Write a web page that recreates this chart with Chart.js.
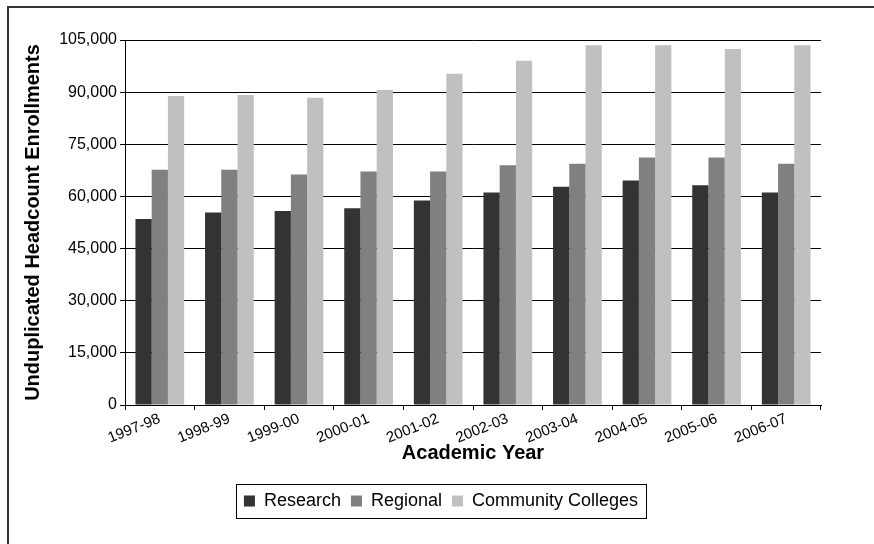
<!DOCTYPE html>
<html lang="en">
<head>
<meta charset="UTF-8" />
<title>Headcount Enrollments</title>
<script src="https://cdn.jsdelivr.net/npm/chart.js"></script>
<style>
  html, body { margin: 0; padding: 0; background: #fff; }
  #wrap { width: 874px; height: 544px; }
</style>
</head>
<body>
<div id="wrap"><canvas id="enrollChart" width="874" height="544"></canvas></div>
<script>
  const years = ['1997-98', '1998-99', '1999-00', '2000-01', '2001-02',
                 '2002-03', '2003-04', '2004-05', '2005-06', '2006-07'];
  const research  = [53500, 55400, 55800, 56600, 58800, 61100, 62800, 64600, 63200, 61100];
  const regional  = [67700, 67700, 66300, 67200, 67200, 69000, 69400, 71200, 71200, 69400];
  const community = [88900, 89200, 88400, 90600, 95300, 99000, 103500, 103500, 102400, 103500];
  const yTicks = [0, 15000, 30000, 45000, 60000, 75000, 90000, 105000];

  const font = 'Arial, "Liberation Sans", sans-serif';

  // outer frame plus a box around the legend
  const frames = {
    id: 'frames',
    afterDraw(chart) {
      const ctx = chart.ctx;
      ctx.save();
      ctx.strokeStyle = '#333';
      ctx.lineWidth = 2;
      ctx.strokeRect(8, 7, chart.width + 20, chart.height + 20);
      const lg = chart.legend;
      if (lg && lg.legendHitBoxes.length) {
        const hb = lg.legendHitBoxes;
        const l = hb[0].left - 8;
        const last = hb[hb.length - 1];
        const r = last.left + last.width + 8;
        const t = hb[0].top - 8;
        const b = hb[0].top + hb[0].height + 8;
        ctx.lineWidth = 1;
        ctx.strokeStyle = '#000';
        ctx.strokeRect(Math.round(l) + 0.5, Math.round(t) + 0.5, Math.round(r - l), Math.round(b - t));
      }
      ctx.restore();
    }
  };

  new Chart(document.getElementById('enrollChart'), {
    type: 'bar',
    data: {
      labels: years,
      datasets: [
        { label: 'Research', data: research, backgroundColor: '#333333' },
        { label: 'Regional', data: regional, backgroundColor: '#808080' },
        { label: 'Community Colleges', data: community, backgroundColor: '#c0c0c0' }
      ]
    },
    options: {
      responsive: false,
      animation: false,
      devicePixelRatio: 1,
      layout: { padding: { left: 8, right: 0, top: 40, bottom: 24 } },
      datasets: { bar: { barPercentage: 1, categoryPercentage: 0.7 } },
      plugins: {
        tooltip: { enabled: false },
        legend: {
          position: 'bottom',
          labels: {
            color: '#000',
            font: { family: font, size: 18 },
            boxWidth: 11,
            boxHeight: 11,
            padding: 10
          }
        }
      },
      scales: {
        x: {
          afterFit(scale) { scale.height = 77; },
          grid: { display: true, drawOnChartArea: false, offset: true, color: '#000', tickLength: 5 },
          border: { color: '#000' },
          ticks: { color: '#000', font: { family: font, size: 15 }, minRotation: 22, maxRotation: 22, padding: 0 },
          title: { display: true, text: 'Academic Year', color: '#000', font: { family: font, size: 20, weight: 'bold' }, padding: { top: 0, bottom: 17 } }
        },
        y: {
          min: 0,
          max: 105000,
          afterBuildTicks(scale) { scale.ticks = yTicks.map(v => ({ value: v })); },
          afterFit(scale) { scale.width = 117; },
          grid: { color: '#000', tickLength: 5, tickColor: '#000' },
          border: { color: '#000' },
          ticks: {
            color: '#000',
            font: { family: font, size: 16 },
            padding: 3,
            callback: v => v.toLocaleString('en-US')
          },
          title: { display: true, text: 'Unduplicated Headcount Enrollments', color: '#000', font: { family: font, size: 20, weight: 'bold' }, padding: { top: 13, bottom: 0 } }
        },
        y2: {
          position: 'right',
          display: true,
          afterFit(scale) { scale.width = 53; },
          grid: { display: false },
          border: { display: false },
          ticks: { display: false }
        }
      }
    },
    plugins: [frames]
  });
</script>
</body>
</html>
